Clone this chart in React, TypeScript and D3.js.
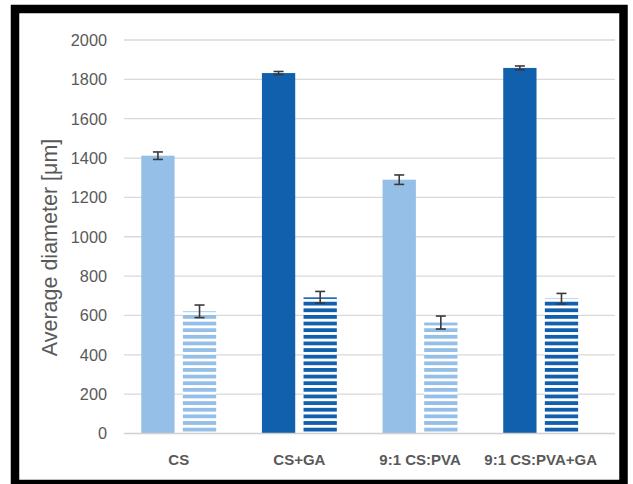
import React from "react";
import * as d3 from "d3";

const categories = ["CS", "CS+GA", "9:1 CS:PVA", "9:1 CS:PVA+GA"];
const solidValues = [1412, 1832, 1290, 1858];
const solidErrors = [19, 8, 24, 10];
const stripedValues = [621, 692, 564, 685];
const stripedErrors = [32, 30, 33, 27];
const solidColors = ["#95bfe6", "#1160ad", "#95bfe6", "#1160ad"];
const yTicks = [0, 200, 400, 600, 800, 1000, 1200, 1400, 1600, 1800, 2000];

const W = 633;
const H = 484;

export default function App() {
  const y = d3.scaleLinear().domain([0, 2000]).range([433.5, 40]);
  const x0 = d3.scaleBand<string>().domain(categories).range([118.4, 601]).padding(0);
  const pairW = 74.9;
  const x1 = d3.scaleBand<string>().domain(["solid", "striped"]).range([0, pairW]).paddingInner(0.2).paddingOuter(0);
  const bw = x1.bandwidth();
  const gridX0 = 124;
  const gridX1 = 615;
  const textColor = "#595959";
  const errColor = "#3a3a3a";
  const period = 6.63;
  const stripe = 3.8;
  const phase = 315 % period;

  const groupStart = (c: string) => (x0(c) as number) + x0.bandwidth() / 2 - pairW / 2;

  return (
    <svg width={W} height={H} style={{ position: "absolute", left: 0, top: 0, background: "#fff" }}>
      <defs>
        <pattern id="pLight" patternUnits="userSpaceOnUse" x={0} y={phase} width={20} height={period}>
          <rect x={0} y={0} width={20} height={period} fill="#fff" />
          <rect x={0} y={0} width={20} height={stripe} fill="#95bfe6" />
        </pattern>
        <pattern id="pDark" patternUnits="userSpaceOnUse" x={0} y={phase} width={20} height={period}>
          <rect x={0} y={0} width={20} height={period} fill="#fff" />
          <rect x={0} y={0} width={20} height={stripe} fill="#1160ad" />
        </pattern>
      </defs>
      <rect x={0} y={0} width={W} height={H} fill="#fff" />
      {yTicks.map((t) => (
        <g key={t}>
          {t > 0 && (
            <line x1={gridX0} x2={gridX1} y1={y(t)} y2={y(t)} stroke="#d9d9d9" strokeWidth={1.3} />
          )}
          <text
            x={107}
            y={y(t)}
            dy="0.36em"
            textAnchor="end"
            fontFamily="'Liberation Sans', Arial, sans-serif"
            fontSize={16.3}
            fill={textColor}
          >
            {t}
          </text>
        </g>
      ))}
      {categories.map((c, i) => {
        const gs = groupStart(c);
        const sx = gs + (x1("solid") as number);
        const tx = gs + (x1("striped") as number);
        const sv = solidValues[i];
        const se = solidErrors[i];
        const tv = stripedValues[i];
        const te = stripedErrors[i];
        const dark = i % 2 === 1;
        return (
          <g key={c}>
            <rect x={sx} y={y(sv)} width={bw} height={y(0) - y(sv)} fill={solidColors[i]} />
            <rect x={tx} y={y(tv)} width={bw} height={y(0) - y(tv)} fill={dark ? "url(#pDark)" : "url(#pLight)"} />
            {[
              [sx + bw / 2, sv, se],
              [tx + bw / 2, tv, te],
            ].map(([cx, v, e], k) => (
              <g key={k} stroke={errColor} strokeWidth={1.6}>
                <line x1={cx} x2={cx} y1={y(v + e)} y2={y(v - e)} />
                <line x1={cx - 5} x2={cx + 5} y1={y(v + e)} y2={y(v + e)} />
                <line x1={cx - 5} x2={cx + 5} y1={y(v - e)} y2={y(v - e)} />
              </g>
            ))}
            <text
              x={(x0(c) as number) + x0.bandwidth() / 2}
              y={465}
              textAnchor="middle"
              fontFamily="'Liberation Sans', Arial, sans-serif"
              fontWeight="bold"
              fontSize={15}
              fill={textColor}
            >
              {c}
            </text>
          </g>
        );
      })}
      <line x1={gridX0} x2={gridX1} y1={y(0)} y2={y(0)} stroke="#d0d0d0" strokeWidth={1.5} />
      <text
        transform="translate(57,247.5) rotate(-90)"
        textAnchor="middle"
        fontFamily="'Liberation Sans', Arial, sans-serif"
        fontSize={21.5}
        fill={textColor}
      >
        Average diameter [μm]
      </text>
      <rect x={15} y={9} width={608.5} height={475} fill="none" stroke="#000" strokeWidth={8.5} />
    </svg>
  );
}
